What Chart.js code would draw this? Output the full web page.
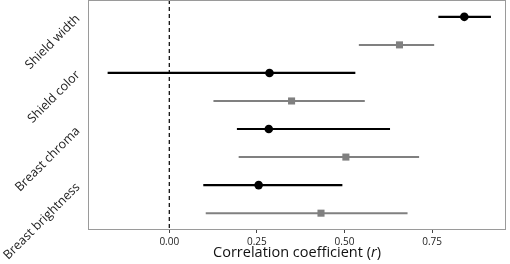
<!DOCTYPE html>
<html>
<head>
<meta charset="utf-8">
<script src="https://cdn.jsdelivr.net/npm/chart.js@4.4.1/dist/chart.umd.min.js"></script>
<style>
  body { margin: 0; background: #fff; }
  canvas { display: block; }
</style>
</head>
<body>
<canvas id="corrChart" width="510" height="264"></canvas>
<script>
// traits, top to bottom
const categories = ['Shield width', 'Shield color', 'Breast chroma', 'Breast brightness'];

// black circles (first row of each trait)
const blackEst = [0.842, 0.286, 0.284, 0.255];
const blackLo  = [0.768, -0.176, 0.193, 0.097];
const blackHi  = [0.918, 0.531, 0.630, 0.494];

// grey squares (second row of each trait)
const greyEst = [0.657, 0.349, 0.504, 0.433];
const greyLo  = [0.541, 0.126, 0.198, 0.104];
const greyHi  = [0.756, 0.558, 0.713, 0.680];

const xTicks = [0, 0.25, 0.5, 0.75];
const refLine = 0;

const FONT = "'Open Sans', sans-serif";

const datasets = [];

// dashed zero line
datasets.push({
    data: [{ x: refLine, y: 0.4 }, { x: refLine, y: 8.6 }],
    showLine: true,
    borderColor: '#000',
    borderWidth: 1.2,
    borderDash: [4, 3],
    pointRadius: 0
});

categories.forEach((c, i) => {
    const yb = 2 * i + 1;
    const yg = 2 * i + 2;
    datasets.push({
        data: [{ x: blackLo[i], y: yb }, { x: blackHi[i], y: yb }],
        showLine: true,
        borderColor: '#000',
        borderWidth: 2.2,
        pointRadius: 0
    });
    datasets.push({
        data: [{ x: greyLo[i], y: yg }, { x: greyHi[i], y: yg }],
        showLine: true,
        borderColor: '#808080',
        borderWidth: 2,
        pointRadius: 0
    });
});

datasets.push({
    data: blackEst.map((v, i) => ({ x: v, y: 2 * i + 1 })),
    pointStyle: 'circle',
    pointRadius: 4.3,
    backgroundColor: '#000',
    borderColor: '#000',
    borderWidth: 0
});
datasets.push({
    data: greyEst.map((v, i) => ({ x: v, y: 2 * i + 2 })),
    pointStyle: 'rect',
    pointRadius: 5,
    backgroundColor: '#808080',
    borderColor: '#808080',
    borderWidth: 0
});

// panel border + x title with italic r
const panelPlugin = {
    id: 'panel',
    afterDraw(chart) {
        const { ctx, chartArea: a } = chart;
        ctx.save();
        ctx.strokeStyle = '#9a9a9a';
        ctx.lineWidth = 1;
        ctx.strokeRect(a.left + 0.5, a.top + 0.5, a.right - a.left - 1, a.bottom - a.top - 1);

        const parts = [
            { t: 'Correlation coefficient (', f: '14.5px ' + FONT },
            { t: 'r', f: 'italic 14.5px ' + FONT },
            { t: ')', f: '14.5px ' + FONT }
        ];
        let total = 0;
        parts.forEach(p => { ctx.font = p.f; p.w = ctx.measureText(p.t).width; total += p.w; });
        let x = (a.left + a.right) / 2 - total / 2;
        ctx.fillStyle = '#111';
        ctx.textBaseline = 'alphabetic';
        parts.forEach(p => { ctx.font = p.f; ctx.fillText(p.t, x, 257); x += p.w; });
        ctx.restore();
    }
};

const ctx = document.getElementById('corrChart').getContext('2d');
new Chart(ctx, {
    type: 'scatter',
    data: { datasets: datasets },
    options: {
        responsive: false,
        animation: false,
        layout: { autoPadding: false, padding: { top: 0, right: 4, left: 0, bottom: 0 } },
        plugins: {
            legend: { display: false },
            tooltip: { enabled: false }
        },
        scales: {
            x: {
                type: 'linear',
                min: -0.232,
                max: 0.961,
                afterBuildTicks: (s) => { s.ticks = xTicks.map(v => ({ value: v })); },
                afterFit: (s) => { s.height = 34; s.paddingLeft = 0; s.paddingRight = 0; },
                border: { display: false },
                grid: { drawOnChartArea: false, drawTicks: true, tickLength: 3, tickColor: '#444', lineWidth: 1 },
                ticks: {
                    callback: (v) => v.toFixed(2),
                    color: '#222',
                    padding: 3,
                    font: { family: FONT, size: 10 }
                }
            },
            y: {
                type: 'linear',
                reverse: true,
                min: 0.4,
                max: 8.6,
                afterBuildTicks: (s) => { s.ticks = categories.map((c, i) => ({ value: 2 * i + 1.5 })); },
                afterFit: (s) => { s.width = 88; s.paddingTop = 0; s.paddingBottom = 0; },
                border: { display: false },
                grid: { display: false },
                ticks: {
                    callback: (v) => categories[Math.round((v - 1.5) / 2)],
                    minRotation: 45,
                    maxRotation: 45,
                    color: '#222',
                    padding: 2,
                    labelOffset: -14,
                    font: { family: FONT, size: 12.5 }
                }
            }
        }
    },
    plugins: [panelPlugin]
});
</script>
</body>
</html>
